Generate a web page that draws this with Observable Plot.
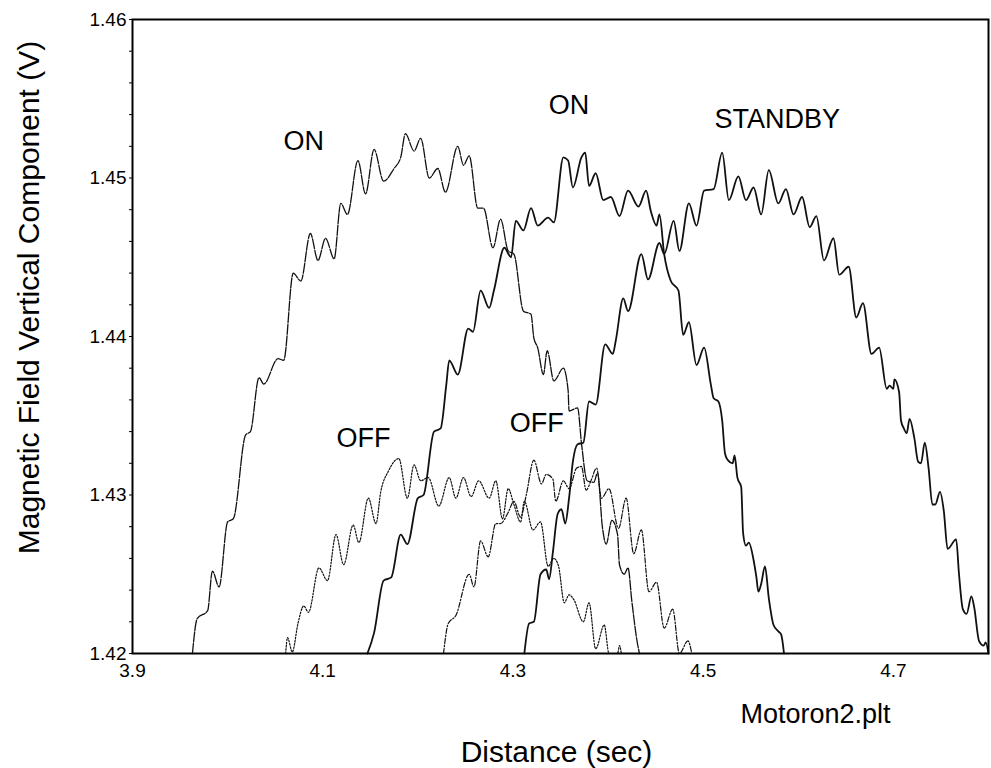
<!DOCTYPE html>
<html>
<head>
<meta charset="utf-8">
<script src="https://cdn.jsdelivr.net/npm/d3@7"></script>
<script src="https://cdn.jsdelivr.net/npm/@observablehq/plot@0.6"></script>
<style>
  html, body { margin: 0; padding: 0; background: #fff; }
  #chart { width: 991px; height: 768px; }
</style>
</head>
<body>
<div id="chart"></div>
<script>
// ---- Data ----
const xTicks = [3.9, 4.1, 4.3, 4.5, 4.7];
const yTicks = [1.42, 1.43, 1.44, 1.45, 1.46];
const yMinorTicks = [1.422,1.424,1.426,1.428,1.432,1.434,1.436,1.438,1.442,1.444,1.446,1.448,1.452,1.454,1.456,1.458];

const on1X = [3.963,3.968,3.979,3.984,3.991,4.000,4.006,4.019,4.024,4.033,4.038,4.053,4.059,4.069,4.077,4.087,4.095,4.103,4.112,4.119,4.126,4.137,4.145,4.154,4.164,4.175,4.182,4.187,4.196,4.203,4.212,4.221,4.229,4.242,4.248,4.254,4.263,4.269,4.279,4.287,4.295,4.301,4.311,4.319,4.322,4.326,4.332,4.336,4.343,4.353,4.358,4.359,4.368,4.372,4.378,4.385,4.389,4.394,4.398,4.404,4.410,4.412,4.417,4.421,4.425,4.431,4.433];
const on1Y = [1.4200,1.4222,1.4227,1.4252,1.4242,1.4283,1.4285,1.4338,1.4340,1.4374,1.4370,1.4386,1.4385,1.4440,1.4435,1.4465,1.4448,1.4462,1.4449,1.4484,1.4477,1.4511,1.4490,1.4518,1.4498,1.4506,1.4513,1.4528,1.4517,1.4525,1.4500,1.4506,1.4491,1.4520,1.4508,1.4514,1.4481,1.4481,1.4456,1.4474,1.4454,1.4452,1.4416,1.4414,1.4399,1.4393,1.4376,1.4391,1.4372,1.4380,1.4366,1.4353,1.4355,1.4333,1.4309,1.4308,1.4314,1.4280,1.4269,1.4284,1.4275,1.4256,1.4250,1.4254,1.4233,1.4206,1.4200];

const on2X = [4.147,4.154,4.164,4.172,4.182,4.189,4.200,4.206,4.217,4.224,4.230,4.233,4.242,4.253,4.258,4.266,4.275,4.280,4.291,4.298,4.303,4.311,4.319,4.326,4.337,4.343,4.353,4.358,4.363,4.372,4.376,4.380,4.387,4.395,4.403,4.412,4.421,4.432,4.440,4.445,4.451,4.454,4.459,4.466,4.474,4.479,4.485,4.493,4.501,4.508,4.511,4.516,4.520,4.523,4.526,4.531,4.533,4.536,4.540,4.542,4.545,4.548,4.553,4.556,4.558,4.561,4.565,4.569,4.574,4.579,4.582,4.585];
const on2Y = [1.4200,1.4213,1.4246,1.4248,1.4275,1.4269,1.4298,1.4300,1.4340,1.4342,1.4370,1.4385,1.4376,1.4405,1.4403,1.4429,1.4418,1.4429,1.4456,1.4450,1.4473,1.4467,1.4481,1.4470,1.4475,1.4472,1.4513,1.4511,1.4494,1.4513,1.4516,1.4495,1.4503,1.4486,1.4488,1.4476,1.4492,1.4482,1.4492,1.4479,1.4470,1.4477,1.4452,1.4435,1.4429,1.4401,1.4409,1.4382,1.4393,1.4370,1.4361,1.4359,1.4347,1.4326,1.4322,1.4320,1.4325,1.4311,1.4305,1.4276,1.4268,1.4270,1.4259,1.4248,1.4239,1.4244,1.4255,1.4235,1.4218,1.4214,1.4212,1.4200];

const standbyX = [4.312,4.317,4.322,4.329,4.335,4.338,4.342,4.347,4.351,4.355,4.359,4.363,4.368,4.374,4.380,4.387,4.397,4.405,4.408,4.416,4.421,4.435,4.442,4.454,4.459,4.469,4.475,4.485,4.493,4.501,4.511,4.520,4.527,4.537,4.545,4.553,4.561,4.569,4.579,4.587,4.595,4.604,4.612,4.619,4.627,4.637,4.643,4.653,4.661,4.668,4.677,4.685,4.693,4.696,4.700,4.701,4.706,4.708,4.711,4.714,4.717,4.722,4.726,4.729,4.733,4.737,4.741,4.744,4.749,4.753,4.757,4.766,4.769,4.773,4.777,4.782,4.785,4.790,4.795,4.797,4.800];
const standbyY = [1.4200,1.4219,1.4220,1.4250,1.4253,1.4247,1.4264,1.4288,1.4291,1.4282,1.4298,1.4321,1.4332,1.4333,1.4359,1.4357,1.4395,1.4389,1.4397,1.4424,1.4416,1.4452,1.4436,1.4459,1.4452,1.4473,1.4454,1.4484,1.4470,1.4492,1.4493,1.4516,1.4486,1.4501,1.4486,1.4494,1.4477,1.4505,1.4484,1.4493,1.4477,1.4488,1.4469,1.4476,1.4448,1.4462,1.4439,1.4444,1.4412,1.4421,1.4389,1.4393,1.4367,1.4369,1.4367,1.4373,1.4365,1.4347,1.4342,1.4339,1.4348,1.4336,1.4321,1.4320,1.4333,1.4317,1.4294,1.4294,1.4302,1.4290,1.4266,1.4272,1.4250,1.4228,1.4225,1.4236,1.4229,1.4208,1.4205,1.4207,1.4200];

const off1X = [4.061,4.063,4.068,4.074,4.080,4.085,4.096,4.105,4.114,4.122,4.132,4.138,4.148,4.156,4.161,4.169,4.180,4.189,4.196,4.203,4.211,4.222,4.233,4.240,4.248,4.256,4.264,4.275,4.282,4.289,4.295,4.301,4.308,4.312,4.321,4.329,4.337,4.343,4.348,4.354,4.359,4.364,4.374,4.380,4.387,4.396,4.401,4.410,4.412,4.414];
const off1Y = [1.4200,1.4210,1.4201,1.4219,1.4230,1.4226,1.4254,1.4246,1.4275,1.4256,1.4281,1.4270,1.4298,1.4282,1.4302,1.4315,1.4323,1.4298,1.4319,1.4309,1.4311,1.4293,1.4311,1.4298,1.4311,1.4299,1.4309,1.4298,1.4309,1.4285,1.4304,1.4294,1.4283,1.4296,1.4278,1.4283,1.4255,1.4260,1.4255,1.4232,1.4237,1.4234,1.4220,1.4232,1.4203,1.4218,1.4200,1.4200,1.4205,1.4200];

const off2X = [4.227,4.232,4.240,4.254,4.259,4.266,4.274,4.282,4.287,4.295,4.301,4.308,4.314,4.322,4.330,4.335,4.342,4.345,4.353,4.359,4.367,4.372,4.377,4.382,4.388,4.393,4.401,4.411,4.419,4.427,4.435,4.443,4.451,4.459,4.468,4.475,4.484,4.488];
const off2Y = [1.4200,1.4219,1.4224,1.4250,1.4242,1.4271,1.4261,1.4282,1.4282,1.4289,1.4296,1.4286,1.4300,1.4322,1.4307,1.4313,1.4310,1.4296,1.4309,1.4304,1.4317,1.4318,1.4303,1.4309,1.4317,1.4298,1.4304,1.4279,1.4298,1.4263,1.4278,1.4239,1.4245,1.4216,1.4228,1.4200,1.4208,1.4200];

const labelText = ["ON", "ON", "STANDBY", "OFF", "OFF"];
const labelX = [4.080, 4.359, 4.578, 4.143, 4.325];
const labelY = [1.4523, 1.4546, 1.4537, 1.4336, 1.4345];

// ---- Build tables ----
function series(name, xs, ys) { return xs.map((x, i) => ({series: name, x, y: ys[i]})); }
const on1 = series("ON 1", on1X, on1Y);
const on2 = series("ON 2", on2X, on2Y);
const standby = series("STANDBY", standbyX, standbyY);
const off1 = series("OFF 1", off1X, off1Y);
const off2 = series("OFF 2", off2X, off2Y);
const labels = labelText.map((t, i) => ({text: t, x: labelX[i], y: labelY[i]}));

const ink = "#111";
const fx = d3.format(".1f"), fy = d3.format(".2f");
const chart = Plot.plot({
  width: 991,
  height: 768,
  marginLeft: 132,
  marginRight: 3,
  marginTop: 19,
  marginBottom: 115,
  style: {fontFamily: "'Liberation Sans', Arial, sans-serif", background: "#fff", color: "#000"},
  x: {domain: [3.9, 4.8], label: null},
  y: {domain: [1.42, 1.46], label: null},
  marks: [
    Plot.axisX({ticks: xTicks, tickSize: 0, text: null, label: null}),
    Plot.axisY({ticks: yTicks, tickSize: 3, text: null, label: null}),
    Plot.axisY({ticks: yMinorTicks, tickSize: 3, text: null, label: null}),
    // tick labels as text marks (bigger font like the reference)
    Plot.text(xTicks, {x: d => d, frameAnchor: "bottom", text: d => fx(d), fontSize: 19, fill: "#000", textAnchor: "middle", lineAnchor: "top", dy: 10}),
    Plot.text(yTicks, {y: d => d, frameAnchor: "left", text: d => fy(d), fontSize: 19, fill: "#000", textAnchor: "end", lineAnchor: "middle", dx: -6}),
    Plot.line(on1, {x: "x", y: "y", stroke: ink, strokeWidth: 1.3, strokeDasharray: "10,1.6", curve: "monotone-x"}),
    Plot.line(off1, {x: "x", y: "y", stroke: ink, strokeWidth: 1.2, strokeDasharray: "1.6,1.6", curve: "monotone-x"}),
    Plot.line(off2, {x: "x", y: "y", stroke: ink, strokeWidth: 1.2, strokeDasharray: "5,1.8,1.5,1.8", curve: "monotone-x"}),
    Plot.line(on2, {x: "x", y: "y", stroke: ink, strokeWidth: 1.8, curve: "monotone-x"}),
    Plot.line(standby, {x: "x", y: "y", stroke: ink, strokeWidth: 1.8, curve: "monotone-x"}),
    Plot.frame({stroke: "#000", strokeWidth: 2}),
    Plot.text(labels, {x: "x", y: "y", text: "text", fontSize: 27, fill: "#000", textAnchor: "middle", lineAnchor: "middle"}),
    Plot.text(["Motoron2.plt"], {frameAnchor: "bottom-right", text: d => d, fontSize: 27, fill: "#000", textAnchor: "end", lineAnchor: "bottom", dx: -98, dy: 69}),
    Plot.text(["Distance (sec)"], {frameAnchor: "bottom", text: d => d, fontSize: 30, fill: "#000", textAnchor: "middle", lineAnchor: "bottom", dx: -4, dy: 108}),
    Plot.text(["Magnetic Field Vertical Component (V)"], {frameAnchor: "left", text: d => d, fontSize: 30, fill: "#000", textAnchor: "middle", lineAnchor: "bottom", rotate: -90, dx: -94, dy: -39})
  ]
});
document.getElementById("chart").appendChild(chart);
</script>
</body>
</html>
